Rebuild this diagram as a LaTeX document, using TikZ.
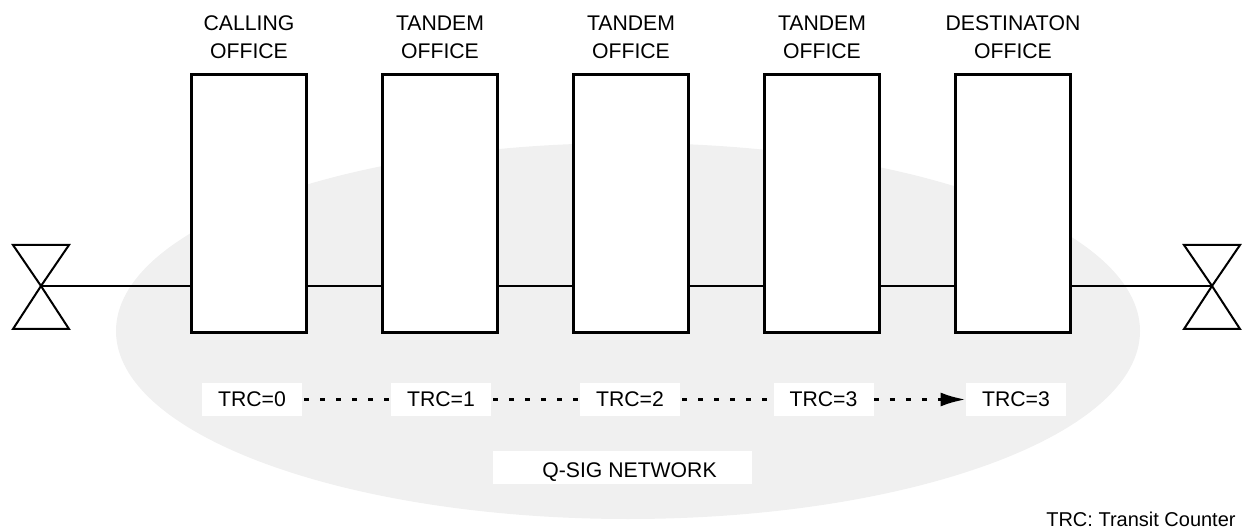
\documentclass[tikz,border=0pt]{standalone}
\usepackage{fontspec}
\setmainfont{Liberation Sans}
\usetikzlibrary{arrows.meta}
\tikzset{
	officebox/.style={draw,fill=white,line width=1.5pt,minimum width=57.5pt,minimum height=129pt,inner sep=0pt},
	officelabel/.style={align=center,inner sep=0pt},
	trcbox/.style={fill=white,minimum width=50pt,minimum height=16.5pt,inner sep=0pt},
	hopline/.style={line width=1.5pt,dash pattern=on 2.5pt off 5.5pt},
	wireline/.style={line width=1pt},
	bowtie/.style={line width=1pt,line join=miter}
}
\begin{document}
\begin{tikzpicture}[x=0.5pt,y=-0.5pt,font=\fontsize{10.6}{14}\selectfont,>={Latex[length=12.5pt,width=7pt]}]
	\useasboundingbox (0,0) rectangle (1248,529);
	\fill[black!6] (628,331) ellipse[x radius=512,y radius=188];
	% offices
	\node[officebox] (off1) at (249,203.5) {};
	\node[officebox] (off2) at (440,203.5) {};
	\node[officebox] (off3) at (631,203.5) {};
	\node[officebox] (off4) at (822,203.5) {};
	\node[officebox] (off5) at (1013,203.5) {};
	\node[officelabel] (lab1) at (249,37) {CALLING\\OFFICE};
	\node[officelabel] (lab2) at (440,37) {TANDEM\\OFFICE};
	\node[officelabel] (lab3) at (631,37) {TANDEM\\OFFICE};
	\node[officelabel] (lab4) at (822,37) {TANDEM\\OFFICE};
	\node[officelabel] (lab5) at (1013,37) {DESTINATON\\OFFICE};
	% end points
	\coordinate (endL) at (41,286);
	\coordinate (endR) at (1212,286);
	\foreach \e in {endL,endR}{
		\draw[bowtie] (\e)--++(-28,-41)--++(56,0)--cycle;
		\draw[bowtie] (\e)--++(-28,43)--++(56,0)--cycle;
	}
	\draw[wireline] (endL)--(off1.west|-endL);
	\draw[wireline] (off5.east|-endR)--(endR);
	\foreach \a/\b in {1/2,2/3,3/4,4/5}{\draw[wireline] (off\a.east|-endL)--(off\b.west|-endL);}
	% counters
	\node[trcbox] (trc0) at (252,399.5) {TRC=0};
	\node[trcbox] (trc1) at (441,399.5) {TRC=1};
	\node[trcbox] (trc2) at (630,399.5) {TRC=2};
	\node[trcbox] (trc3) at (823.5,399.5) {TRC=3};
	\node[trcbox] (trc4) at (1016,399.5) {TRC=3};
	\foreach \a/\b in {0/1,1/2,2/3}{\draw[hopline] ([xshift=1pt]trc\a.east)--(trc\b.west);}
	\draw[hopline,->] (trc3.east)--(trc4.west);
	\node[trcbox,minimum width=129.5pt] (net) at (622.5,467.5) {\smash{\raisebox{-4.75pt}{\hspace*{7pt}Q-SIG NETWORK}}};
	\node[anchor=east,inner sep=0pt,font=\fontsize{10}{12}\selectfont] (note) at (1236,519) {TRC: Transit Counter};
\end{tikzpicture}
\end{document}
